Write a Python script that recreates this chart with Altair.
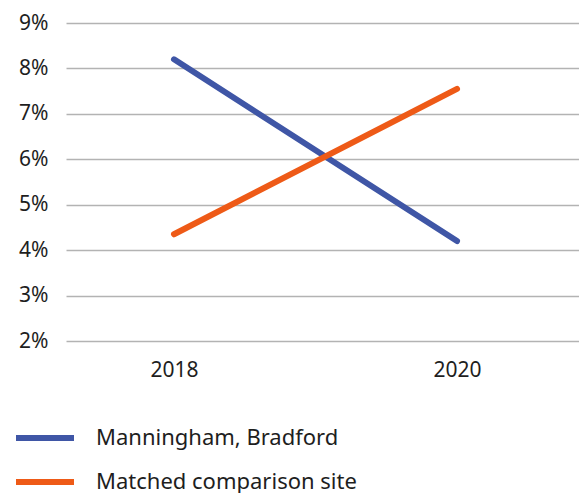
import altair as alt
import pandas as pd

years = [2018, 2020]
series_names = ["Manningham, Bradford", "Matched comparison site"]
manningham = [8.2, 4.2]
matched = [4.35, 7.55]
y_ticks = [2, 3, 4, 5, 6, 7, 8, 9]
colors = ["#3f56a6", "#ee5a17"]

rows = []
for name, vals in zip(series_names, [manningham, matched]):
    for yr, v in zip(years, vals):
        rows.append({"year": yr, "value": v, "series": name})
df = pd.DataFrame(rows)

FONT = "Noto Sans"
FS = 21

chart = alt.Chart(df).mark_line(strokeWidth=6, strokeCap="round").encode(
    x=alt.X("year:Q",
            scale=alt.Scale(domain=[2017.237, 2020.862], nice=False, zero=False),
            axis=alt.Axis(values=years, format="d", title=None, grid=False,
                          domain=False, ticks=False, labelFontSize=FS,
                          labelFont=FONT, labelColor="#1e1e1e", labelPadding=18)),
    y=alt.Y("value:Q",
            scale=alt.Scale(domain=[2, 9], nice=False, zero=False),
            axis=alt.Axis(values=y_ticks, labelExpr="datum.value + '%'", title=None,
                          domain=False, ticks=False, grid=True, gridColor="#b3b3b3",
                          gridWidth=1.5, labelFontSize=FS, labelFont=FONT,
                          labelColor="#1e1e1e", labelPadding=18)),
    color=alt.Color("series:N",
                    scale=alt.Scale(domain=series_names, range=colors),
                    legend=alt.Legend(title=None, orient="none", legendX=-53,
                                      legendY=383, symbolType="stroke",
                                      symbolStrokeWidth=6, symbolSize=3364,
                                      labelFontSize=22, labelFont=FONT,
                                      labelColor="#1e1e1e", labelLimit=400,
                                      rowPadding=-12, labelOffset=19,
                                      direction="vertical")),
).properties(
    width=513, height=318,
    autosize=alt.AutoSizeParams(type="none"),
    padding={"left": 66, "top": 23, "right": 0, "bottom": 152},
).configure_view(stroke=None)

chart.save("out.html", embed_options={"renderer": "svg", "actions": False})
